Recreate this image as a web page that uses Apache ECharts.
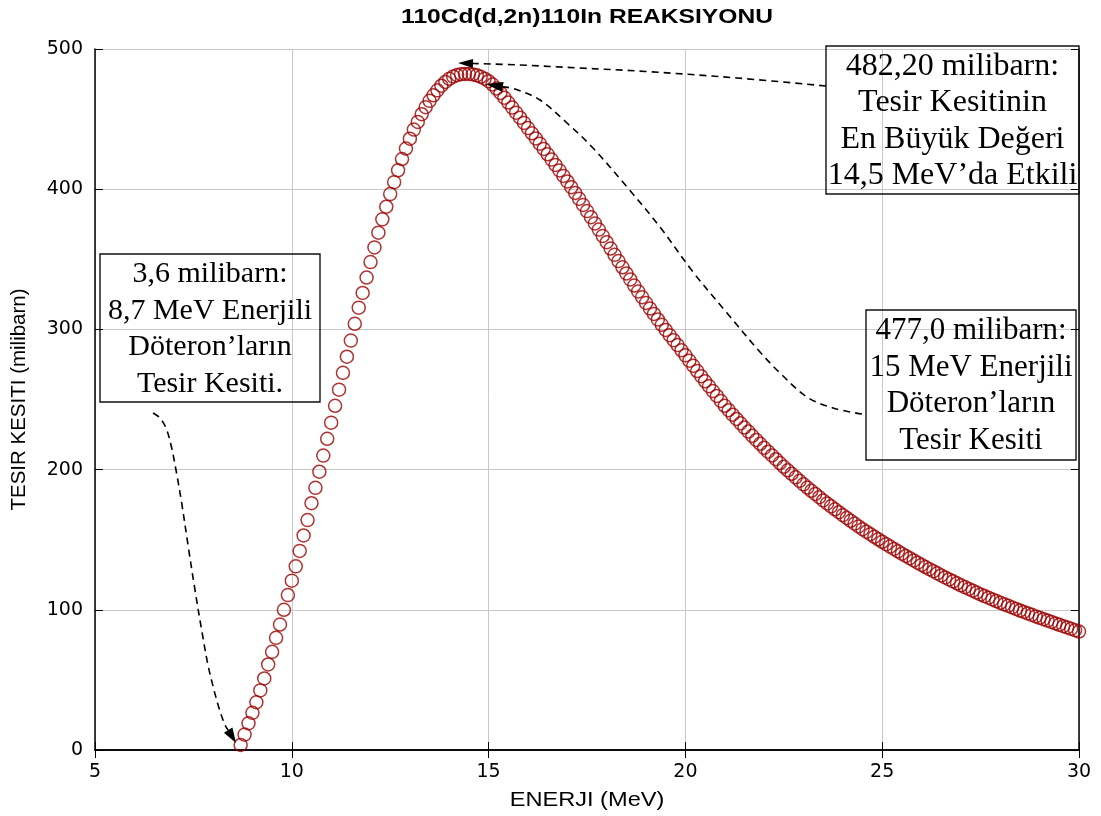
<!DOCTYPE html>
<html>
<head>
<meta charset="utf-8">
<script src="https://cdn.jsdelivr.net/npm/echarts@6/dist/echarts.min.js"></script>
<style>
  body { margin: 0; background: #fff; }
</style>
</head>
<body>
<div id="reaction" style="width: 1101px; height: 816px"></div>
<script>
// deuteron energy (MeV), one circle every 0.1 MeV
var energy = [
  8.7, 8.8, 8.9,
  9.0, 9.1, 9.2, 9.3, 9.4, 9.5, 9.6, 9.7, 9.8, 9.9,
  10.0, 10.1, 10.2, 10.3, 10.4, 10.5, 10.6, 10.7, 10.8, 10.9,
  11.0, 11.1, 11.2, 11.3, 11.4, 11.5, 11.6, 11.7, 11.8, 11.9,
  12.0, 12.1, 12.2, 12.3, 12.4, 12.5, 12.6, 12.7, 12.8, 12.9,
  13.0, 13.1, 13.2, 13.3, 13.4, 13.5, 13.6, 13.7, 13.8, 13.9,
  14.0, 14.1, 14.2, 14.3, 14.4, 14.5, 14.6, 14.7, 14.8, 14.9,
  15.0, 15.1, 15.2, 15.3, 15.4, 15.5, 15.6, 15.7, 15.8, 15.9,
  16.0, 16.1, 16.2, 16.3, 16.4, 16.5, 16.6, 16.7, 16.8, 16.9,
  17.0, 17.1, 17.2, 17.3, 17.4, 17.5, 17.6, 17.7, 17.8, 17.9,
  18.0, 18.1, 18.2, 18.3, 18.4, 18.5, 18.6, 18.7, 18.8, 18.9,
  19.0, 19.1, 19.2, 19.3, 19.4, 19.5, 19.6, 19.7, 19.8, 19.9,
  20.0, 20.1, 20.2, 20.3, 20.4, 20.5, 20.6, 20.7, 20.8, 20.9,
  21.0, 21.1, 21.2, 21.3, 21.4, 21.5, 21.6, 21.7, 21.8, 21.9,
  22.0, 22.1, 22.2, 22.3, 22.4, 22.5, 22.6, 22.7, 22.8, 22.9,
  23.0, 23.1, 23.2, 23.3, 23.4, 23.5, 23.6, 23.7, 23.8, 23.9,
  24.0, 24.1, 24.2, 24.3, 24.4, 24.5, 24.6, 24.7, 24.8, 24.9,
  25.0, 25.1, 25.2, 25.3, 25.4, 25.5, 25.6, 25.7, 25.8, 25.9,
  26.0, 26.1, 26.2, 26.3, 26.4, 26.5, 26.6, 26.7, 26.8, 26.9,
  27.0, 27.1, 27.2, 27.3, 27.4, 27.5, 27.6, 27.7, 27.8, 27.9,
  28.0, 28.1, 28.2, 28.3, 28.4, 28.5, 28.6, 28.7, 28.8, 28.9,
  29.0, 29.1, 29.2, 29.3, 29.4, 29.5, 29.6, 29.7, 29.8, 29.9,
  30.0
];
// cross section (milibarn), same order as energy
var crossSection = [
  3.6, 11.0, 19.0,
  26.5, 34.0, 42.5, 51.0, 61.0, 70.0, 80.0, 89.5, 100.0, 110.5,
  120.8, 131.0, 142.0, 153.0, 164.0, 176.0, 187.0, 198.5, 210.0, 222.0,
  233.5, 245.5, 257.0, 269.0, 280.5, 292.0, 304.0, 315.5, 326.0, 337.0,
  348.0, 358.5, 369.0, 378.5, 387.5, 396.5, 405.0, 413.5, 421.5, 429.0,
  436.0, 442.5, 448.0, 453.5, 458.5, 463.0, 467.0, 470.5, 473.8, 476.5,
  478.7, 480.3, 481.4, 482.0, 482.2, 482.2, 481.9, 481.2, 480.2, 478.8,
  477.0, 474.6, 471.8, 468.7, 465.3, 461.8, 458.2, 454.6, 451.0, 447.3,
  443.6, 439.9, 436.2, 432.5, 428.7, 424.9, 421.1, 417.3, 413.4, 409.5,
  405.5, 401.4, 397.3, 393.1, 388.8, 384.4, 380.0, 375.6, 371.2, 366.7,
  362.2, 357.7, 353.2, 348.7, 344.3, 339.9, 335.6, 331.3, 327.1, 323.0,
  318.9, 314.9, 311.0, 307.1, 303.3, 299.6, 295.9, 292.3, 288.8, 285.1,
  281.5, 277.7, 274.0, 270.3, 266.6, 263.0, 259.5, 256.0, 252.5, 249.0,
  245.5, 242.4, 239.2, 236.1, 233.0, 230.0, 227.1, 224.1, 221.2, 218.4,
  215.5, 212.8, 210.1, 207.4, 204.7, 202.0, 199.5, 197.0, 194.5, 192.0,
  189.5, 187.2, 184.9, 182.6, 180.3, 178.0, 175.9, 173.8, 171.7, 169.6,
  167.5, 165.5, 163.5, 161.5, 159.5, 157.5, 155.7, 153.9, 152.1, 150.3,
  148.5, 146.8, 145.1, 143.4, 141.7, 140.0, 138.4, 136.8, 135.2, 133.6,
  132.0, 130.5, 129.0, 127.5, 126.0, 124.5, 123.1, 121.7, 120.3, 118.9,
  117.5, 116.2, 114.9, 113.6, 112.3, 111.0, 109.8, 108.6, 107.4, 106.2,
  105.0, 103.9, 102.8, 101.7, 100.6, 99.5, 98.5, 97.4, 96.4, 95.3,
  94.3, 93.3, 92.3, 91.3, 90.3, 89.3, 88.3, 87.4, 86.4, 85.5,
  84.5
];

var xTicks = { min: 5, max: 30, step: 5 };
var yTicks = { min: 0, max: 500, step: 100 };

var titleText = "110Cd(d,2n)110In REAKSIYONU";
var xName = "ENERJI (MeV)";
var yName = "TESIR KESITI (milibarn)";

var notePeak = "482,20 milibarn:\nTesir Kesitinin\nEn Büyük Değeri\n14,5 MeV’da Etkili";
var noteStart = "3,6 milibarn:\n8,7 MeV Enerjili\nDöteron’ların\nTesir Kesiti.";
var note15 = "477,0 milibarn:\n15 MeV Enerjili\nDöteron’ların\nTesir Kesiti";

var points = [];
for (var i = 0; i < energy.length; i++) {
  points.push([energy[i], crossSection[i]]);
}

// dashed arrow: smooth dashed line + filled head at the last point
function arrow(pts, headLen, headHalf) {
  var n = pts.length;
  var tip = pts[n - 1];
  var prev = pts[n - 2];
  var dx = tip[0] - prev[0];
  var dy = tip[1] - prev[1];
  var len = Math.sqrt(dx * dx + dy * dy);
  var ux = dx / len, uy = dy / len;
  var bx = tip[0] - ux * headLen, by = tip[1] - uy * headLen;
  var line = pts.slice(0, n - 1).concat([[bx, by]]);
  return [
    {
      type: "polyline",
      z: 100,
      shape: { points: line, smooth: 0.35 },
      style: { stroke: "#000", lineWidth: 1.6, lineDash: [7, 5], fill: null }
    },
    {
      type: "polygon",
      z: 100,
      shape: {
        points: [
          tip,
          [bx - uy * headHalf, by + ux * headHalf],
          [bx + uy * headHalf, by - ux * headHalf]
        ]
      },
      style: { fill: "#000" }
    }
  ];
}

function noteBox(x, y, w, h, text, size, lh) {
  return [
    {
      type: "rect",
      z: 100,
      shape: { x: x, y: y, width: w, height: h },
      style: { fill: null, stroke: "#111", lineWidth: 1.4 }
    },
    {
      type: "text",
      z: 101,
      x: x + w / 2,
      y: y + h / 2 + 1,
      style: {
        text: text,
        align: "center",
        verticalAlign: "middle",
        fontFamily: "Liberation Serif",
        fontSize: size,
        lineHeight: lh,
        fill: "#000"
      }
    }
  ];
}

// horizontal labels of the original are a little wide, so stretch them
function wideText(x, y, text, size, weight, stretch) {
  return {
    type: "text",
    z: 100,
    x: x,
    y: y,
    scaleX: stretch,
    style: {
      text: text,
      align: "center",
      verticalAlign: "middle",
      fontFamily: "Liberation Sans",
      fontSize: size,
      fontWeight: weight,
      fill: "#000"
    }
  };
}

var graphics = [
  wideText(587, 17, titleText, 20, "bold", 1.23),
  wideText(587, 800, xName, 20, "normal", 1.18)
]
  .concat(noteBox(826, 46, 253, 148, notePeak, 32, 36.5))
  .concat(noteBox(100, 254, 220, 148, noteStart, 30, 36.5))
  .concat(noteBox(866, 310, 210, 150, note15, 31, 36.5))
  .concat(arrow([[826, 86], [737, 78], [646, 71.5], [580, 68], [520, 65], [458, 63]], 15, 4.5))
  .concat(arrow([[862, 414], [833, 408], [807, 397], [780, 373], [760, 352], [727, 313],
    [693, 272], [660, 227], [627, 187], [593, 148], [567, 123], [540, 100],
    [515, 89], [486, 84]], 17, 5))
  .concat(arrow([[153, 413], [160, 418], [166, 428], [171, 445], [176, 470], [182, 505],
    [188, 545], [195, 590], [202, 632], [208, 665], [214, 690], [219, 708],
    [225, 725], [236, 743]], 15, 5));

var chartDom = document.getElementById("reaction");
var myChart = echarts.init(chartDom);
var option;

var axisFont = { fontFamily: "DejaVu Sans", fontSize: 19, color: "#000" };

option = {
  animation: false,
  backgroundColor: "#fff",
  grid: { left: 95, right: 22, top: 49, bottom: 66 },
  xAxis: [
    {
      type: "value",
      min: xTicks.min,
      max: xTicks.max,
      interval: xTicks.step,
      axisLine: { lineStyle: { color: "#000", width: 1.5 } },
      axisTick: { inside: true, length: 8, lineStyle: { color: "#000" } },
      axisLabel: Object.assign({ margin: 13 }, axisFont),
      splitLine: { show: true, lineStyle: { color: "#c8c8c8", width: 1 } }
    },
    {
      type: "value",
      position: "top",
      min: xTicks.min,
      max: xTicks.max,
      interval: xTicks.step,
      axisLine: { lineStyle: { color: "#000", width: 1.5 } },
      axisTick: { inside: true, length: 8, lineStyle: { color: "#000" } },
      axisLabel: { show: false },
      splitLine: { show: false }
    }
  ],
  yAxis: [
    {
      type: "value",
      min: yTicks.min,
      max: yTicks.max,
      interval: yTicks.step,
      name: yName,
      nameLocation: "middle",
      nameGap: 65,
      nameTextStyle: { fontFamily: "Liberation Sans", fontSize: 20.5, color: "#000" },
      axisLine: { show: true, lineStyle: { color: "#000", width: 1.5 } },
      axisTick: { show: true, inside: true, length: 8, lineStyle: { color: "#000" } },
      axisLabel: Object.assign({ margin: 12 }, axisFont),
      splitLine: { show: true, lineStyle: { color: "#c8c8c8", width: 1 } }
    },
    {
      type: "value",
      position: "right",
      min: yTicks.min,
      max: yTicks.max,
      interval: yTicks.step,
      axisLine: { show: true, lineStyle: { color: "#000", width: 1.5 } },
      axisTick: { show: true, inside: true, length: 8, lineStyle: { color: "#000" } },
      axisLabel: { show: false },
      splitLine: { show: false }
    }
  ],
  series: [
    {
      name: "sigma",
      type: "scatter",
      symbol: "circle",
      symbolSize: 13,
      itemStyle: { color: "rgba(0,0,0,0)", borderColor: "#9c0000", borderWidth: 1.5 },
      data: points
    }
  ],
  graphic: graphics
};

option && myChart.setOption(option);
</script>
</body>
</html>
